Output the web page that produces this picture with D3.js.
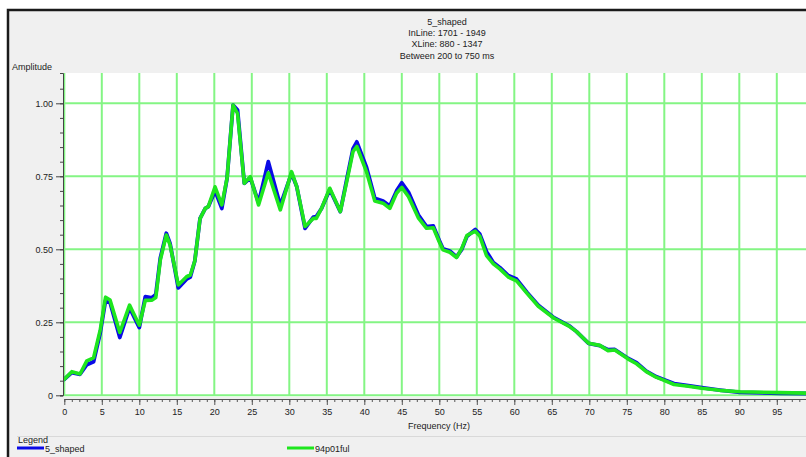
<!DOCTYPE html>
<html>
<head>
<meta charset="utf-8">
<script src="https://cdn.jsdelivr.net/npm/d3@7"></script>
<style>
  body { margin: 0; background: #fff; }
  text { font-family: "Liberation Sans", Arial, sans-serif; fill: #222; }
</style>
</head>
<body>
<script>
// spectrum
var freq   = [0, 1.0, 2.1, 3.0, 3.9, 4.8, 5.5, 6.1, 7.4, 8.7, 10.0, 10.8, 11.7, 12.2, 12.8, 13.6, 14.1, 15.2, 16.3, 16.8,
              17.4, 18.1, 18.8, 19.2, 20.1, 21.0, 21.7, 22.5, 23.1, 24.0, 24.8, 25.9, 27.2, 28.8, 30.3, 31.0, 32.1, 33.2, 33.6, 34.3,
              35.4, 36.8, 37.7, 38.5, 39.0, 40.3, 41.4, 42.5, 43.4, 44.3, 45.0, 45.9, 47.2, 48.3, 49.2, 50.0, 50.5, 51.4, 52.3, 53.0,
              53.7, 54.8, 55.4, 56.3, 57.2, 58.1, 59.2, 60.3, 61.7, 63.2, 65.3, 67.4, 68.3, 69.9, 71.4, 72.5, 73.4, 75.2, 76.3, 77.6,
              78.9, 79.9, 81.3, 83.2, 85.0, 87.4, 90.1, 95.4, 100];
var shaped = [0.055, 0.078, 0.072, 0.105, 0.115, 0.215, 0.325, 0.318, 0.198, 0.300, 0.232, 0.338, 0.334, 0.345, 0.470, 0.555, 0.520, 0.368, 0.398, 0.405,
              0.460, 0.606, 0.640, 0.646, 0.700, 0.640, 0.743, 0.994, 0.977, 0.726, 0.745, 0.660, 0.800, 0.650, 0.760, 0.714, 0.572, 0.610, 0.612, 0.640,
              0.705, 0.629, 0.745, 0.845, 0.868, 0.780, 0.675, 0.665, 0.648, 0.700, 0.728, 0.695, 0.618, 0.578, 0.580, 0.530, 0.502, 0.494, 0.474, 0.500,
              0.545, 0.568, 0.552, 0.492, 0.455, 0.437, 0.410, 0.398, 0.352, 0.308, 0.266, 0.237, 0.218, 0.178, 0.170, 0.156, 0.157, 0.126, 0.112, 0.083,
              0.064, 0.054, 0.040, 0.033, 0.026, 0.018, 0.010, 0.007, 0.006];
var ful    = [0.055, 0.081, 0.073, 0.118, 0.128, 0.225, 0.336, 0.326, 0.215, 0.309, 0.240, 0.325, 0.326, 0.335, 0.463, 0.549, 0.515, 0.378, 0.406, 0.412,
              0.460, 0.605, 0.640, 0.646, 0.714, 0.652, 0.743, 0.994, 0.965, 0.726, 0.749, 0.652, 0.762, 0.635, 0.766, 0.714, 0.578, 0.606, 0.606, 0.640,
              0.709, 0.629, 0.737, 0.835, 0.852, 0.765, 0.665, 0.658, 0.640, 0.692, 0.712, 0.680, 0.608, 0.572, 0.574, 0.525, 0.498, 0.490, 0.472, 0.503,
              0.548, 0.562, 0.545, 0.478, 0.450, 0.432, 0.405, 0.392, 0.349, 0.305, 0.264, 0.235, 0.218, 0.178, 0.171, 0.153, 0.155, 0.124, 0.108, 0.081,
              0.062, 0.052, 0.037, 0.031, 0.024, 0.017, 0.012, 0.009, 0.007];

var titleLines = ["5_shaped", "InLine: 1701 - 1949", "XLine: 880 - 1347", "Between 200 to 750 ms"];
var seriesNames = ["5_shaped", "94p01ful"];
var seriesColors = ["#0a0ae6", "#1ee61e"];
var yMajor = [0, 0.25, 0.5, 0.75, 1];

var width = 806, height = 457;
var plotL = 64, plotT = 73, plotB = 395;

var svg = d3.select("body").append("svg")
    .attr("width", width)
    .attr("height", height);

// panel + frame
svg.append("rect")
    .attr("x", 8).attr("y", 10).attr("width", width).attr("height", height)
    .attr("fill", "#f0f0f0").attr("stroke", "#1a1a1a").attr("stroke-width", 2.5);

var x = d3.scaleLinear().domain([0, 100]).range([64.3, 814.3]);
var y = d3.scaleLinear().domain([0, 1]).range([395.3, 103.3]);

svg.append("rect")
    .attr("x", plotL).attr("y", plotT)
    .attr("width", width - plotL).attr("height", plotB - plotT + 2)
    .attr("fill", "#fff");

// title
svg.append("g").selectAll("text")
    .data(titleLines)
    .enter().append("text")
    .attr("x", 447)
    .attr("y", (d, i) => 25 + i * 11.2)
    .attr("text-anchor", "middle")
    .style("font-size", "9px")
    .text(d => d);

svg.append("text")
    .attr("x", 12).attr("y", 70)
    .style("font-size", "9px")
    .text("Amplitude");

// grid
var grid = svg.append("g").attr("stroke", "#84f584").attr("stroke-width", 2);
grid.selectAll("line.v")
    .data(d3.range(0, 101, 5))
    .enter().append("line")
    .attr("x1", d => x(d)).attr("x2", d => x(d))
    .attr("y1", plotT).attr("y2", plotB + 1);
grid.selectAll("line.h")
    .data(yMajor)
    .enter().append("line")
    .attr("x1", plotL).attr("x2", width)
    .attr("y1", d => y(d)).attr("y2", d => y(d));

// y axis
var yAxisScale = d3.scaleLinear().domain([0, y.invert(plotT)]).range([395.3, plotT]);
var yMinor = svg.append("g")
    .attr("transform", "translate(63,0)")
    .call(d3.axisLeft(yAxisScale).tickValues(d3.range(0, 1.06, 0.05)).tickSize(3).tickSizeOuter(3).tickFormat(""));
var yAx = svg.append("g")
    .attr("transform", "translate(63,0)")
    .call(d3.axisLeft(y).tickValues(yMajor).tickSize(7).tickPadding(3)
        .tickFormat(d => d === 0 ? "0" : d3.format(".2f")(d)));
yAx.select(".domain").remove();
[yMinor, yAx].forEach(g => {
    g.selectAll("line, path").attr("stroke", "#444");
    g.selectAll("text").style("font-size", "9px").attr("fill", "#222");
});

// x axis
var xAx = svg.append("g")
    .attr("transform", "translate(0,399)")
    .call(d3.axisBottom(x).tickValues(d3.range(0, 101, 1)).tickSize(3).tickSizeOuter(0).tickFormat(""));
var xMaj = svg.append("g")
    .attr("transform", "translate(0,399)")
    .call(d3.axisBottom(x).tickValues(d3.range(0, 101, 5)).tickSize(6).tickPadding(4).tickFormat(d3.format("d")));
xMaj.select(".domain").remove();
[xAx, xMaj].forEach(g => {
    g.selectAll("line, path").attr("stroke", "#555");
    g.selectAll("text").style("font-size", "9px").attr("fill", "#222");
});

svg.append("text")
    .attr("x", 439).attr("y", 429)
    .attr("text-anchor", "middle")
    .style("font-size", "9px")
    .text("Frequency (Hz)");

// curves
var line = d3.line()
    .x((d, i) => x(freq[i]))
    .y(d => y(d));

svg.append("defs").append("clipPath").attr("id", "plot")
    .append("rect").attr("x", plotL).attr("y", plotT).attr("width", width - plotL).attr("height", plotB - plotT + 3);

var curves = svg.append("g").attr("clip-path", "url(#plot)");
[shaped, ful].forEach((vals, k) => {
    curves.append("path")
        .datum(vals)
        .attr("d", line)
        .attr("fill", "none")
        .attr("stroke", seriesColors[k])
        .attr("stroke-width", k ? 3.6 : 3.8)
        .attr("stroke-linejoin", "round")
        .attr("stroke-linecap", "round");
});

// legend
svg.append("line")
    .attr("x1", 17).attr("x2", width).attr("y1", 436.5).attr("y2", 436.5)
    .attr("stroke", "#d9d9d9");
svg.append("text").attr("x", 18).attr("y", 443).style("font-size", "9px").text("Legend");

var legend = svg.append("g").selectAll("g")
    .data(seriesNames)
    .enter().append("g")
    .attr("transform", (d, i) => "translate(" + (i ? 287 : 17) + ",448)");
legend.append("line")
    .attr("x1", 0).attr("x2", 27)
    .attr("stroke", (d, i) => seriesColors[i])
    .attr("stroke-width", 3);
legend.append("text")
    .attr("x", 28).attr("y", 3.5)
    .style("font-size", "9px")
    .text(d => d);
</script>
</body>
</html>
